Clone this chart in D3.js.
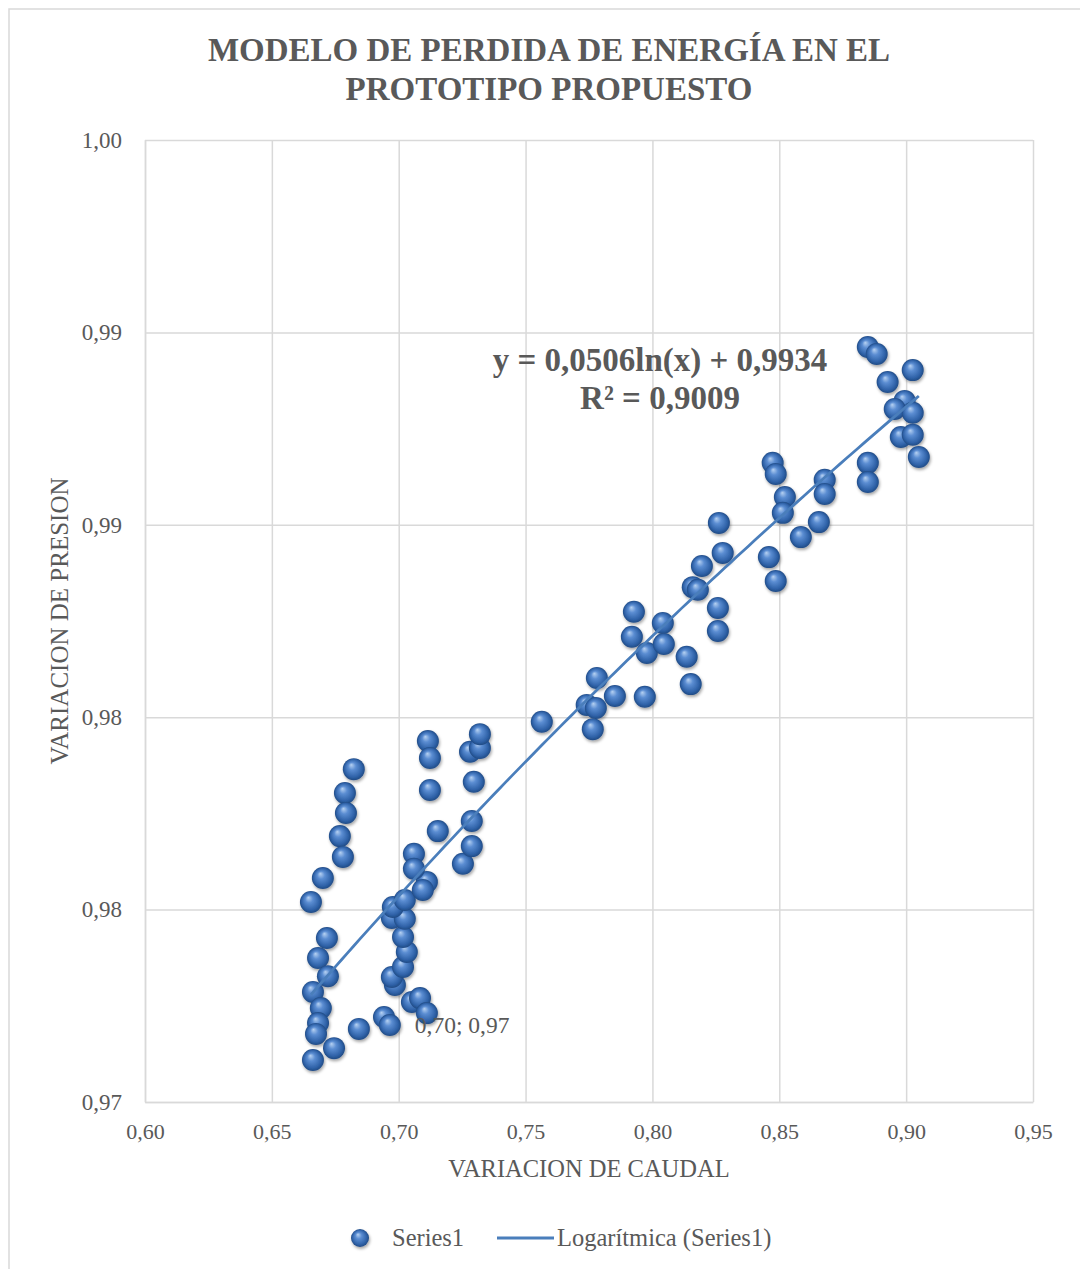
<!DOCTYPE html>
<html>
<head>
<meta charset="utf-8">
<script src="https://cdn.jsdelivr.net/npm/d3@7"></script>
<style>
body { margin: 0; background: #fff; }
svg text { font-family: "Liberation Serif", "Times New Roman", serif; fill: #595959; }
</style>
</head>
<body>
<div id="chart"></div>
<script>
// values
let caudal = [
    0.6823, 0.6788, 0.6792, 0.6768, 0.6780, 0.6701, 0.6654, 0.6717, 0.6682, 0.6721,
    0.6662, 0.6693, 0.6682, 0.6674, 0.6662, 0.6745, 0.6843, 0.6942, 0.6965, 0.6985,
    0.6973, 0.7017, 0.7032, 0.7017, 0.6973, 0.7024, 0.6977, 0.7024, 0.7052, 0.7084,
    0.7111, 0.7111, 0.7095, 0.7060, 0.7060, 0.7115, 0.7123, 0.7123, 0.7154, 0.7253,
    0.7288, 0.7288, 0.7296, 0.7281, 0.7320, 0.7320, 0.7564, 0.7741, 0.7777, 0.7765,
    0.7781, 0.7852, 0.7970, 0.7927, 0.7919, 0.7978, 0.8041, 0.8045, 0.8135, 0.8151,
    0.8159, 0.8179, 0.8195, 0.8258, 0.8258, 0.8262, 0.8277, 0.8459, 0.8486, 0.8474,
    0.8486, 0.8522, 0.8514, 0.8585, 0.8656, 0.8679, 0.8679, 0.8849, 0.8849, 0.8849,
    0.8884, 0.8927, 0.9026, 0.8994, 0.8955, 0.9026, 0.8979, 0.9026, 0.9050
];
let presion = [
    0.97865, 0.97803, 0.97751, 0.97691, 0.97637, 0.97582, 0.97520, 0.97426, 0.97374, 0.97327,
    0.97286, 0.97244, 0.97205, 0.97177, 0.97109, 0.97140, 0.97190, 0.97221, 0.97200, 0.97304,
    0.97325, 0.97351, 0.97390, 0.97429, 0.97478, 0.97476, 0.97507, 0.97525, 0.97260, 0.97270,
    0.97231, 0.97572, 0.97551, 0.97645, 0.97606, 0.97938, 0.97894, 0.97811, 0.97704, 0.97619,
    0.97665, 0.97730, 0.97832, 0.97910, 0.97920, 0.97956, 0.97988, 0.98032, 0.98024, 0.97969,
    0.98102, 0.98055, 0.98053, 0.98274, 0.98209, 0.98167, 0.98245, 0.98190, 0.98157, 0.98086,
    0.98338, 0.98331, 0.98393, 0.98284, 0.98224, 0.98505, 0.98427, 0.98416, 0.98354, 0.98661,
    0.98632, 0.98572, 0.98531, 0.98468, 0.98507, 0.98617, 0.98580, 0.98661, 0.98611, 0.98962,
    0.98944, 0.98871, 0.98902, 0.98822, 0.98801, 0.98791, 0.98728, 0.98734, 0.98676
];
let labelIndex = 18;           // point carrying the "0,70; 0,97" data label
let labelText = "0,70; 0,97";

let xTicks = [0.60, 0.65, 0.70, 0.75, 0.80, 0.85, 0.90, 0.95];
let xTickLabels = ["0,60", "0,65", "0,70", "0,75", "0,80", "0,85", "0,90", "0,95"];
let yTicks = [0.970, 0.975, 0.980, 0.985, 0.990, 0.995];
let yTickLabels = ["0,97", "0,98", "0,98", "0,99", "0,99", "1,00"];

// logarithmic trend y = a ln(x) + b
let trendA = 0.0506;
let trendB = 0.9934;
let trendText = ["y = 0,0506ln(x) + 0,9934", "R\u00b2 = 0,9009"];

let titleLines = ["MODELO DE PERDIDA DE ENERG\u00cdA EN EL", "PROTOTIPO PROPUESTO"];

const W = 1080, H = 1269;
const plot = { left: 145, top: 140, right: 1033, bottom: 1102 };
const blue = "#4a7ebb";

let svg = d3.select("#chart")
    .append("svg")
    .attr("width", W)
    .attr("height", H);

let defs = svg.append("defs");
let grad = defs.append("radialGradient")
    .attr("id", "ball")
    .attr("cx", "50%").attr("cy", "50%").attr("r", "50%")
    .attr("fx", "38%").attr("fy", "30%");
grad.append("stop").attr("offset", "0%").attr("stop-color", "#b7d2f2");
grad.append("stop").attr("offset", "35%").attr("stop-color", "#5b8dd2");
grad.append("stop").attr("offset", "80%").attr("stop-color", "#2f62a8");
grad.append("stop").attr("offset", "100%").attr("stop-color", "#214b85");
defs.append("filter")
    .attr("id", "shadow")
    .attr("x", "-50%").attr("y", "-50%").attr("width", "200%").attr("height", "200%")
    .append("feDropShadow")
    .attr("dx", 1).attr("dy", 2).attr("stdDeviation", 1.5)
    .attr("flood-color", "#000").attr("flood-opacity", 0.35);

// chart area border (only top/left visible in the picture)
svg.append("rect")
    .attr("x", 9).attr("y", 9)
    .attr("width", W + 40).attr("height", H + 40)
    .attr("fill", "none")
    .attr("stroke", "#d9d9d9")
    .attr("stroke-width", 1.5);

// title
svg.append("g").selectAll("text")
    .data(titleLines)
    .enter().append("text")
    .attr("x", 549)
    .attr("y", function(d, i) { return 61 + i * 39; })
    .attr("text-anchor", "middle")
    .attr("font-size", 33)
    .attr("font-weight", "bold")
    .text(function(d) { return d; });

let x = d3.scaleLinear()
    .domain([0.60, 0.95])
    .range([plot.left, plot.right]);

let y = d3.scaleLinear()
    .domain([0.970, 0.995])
    .range([plot.bottom, plot.top]);

// y gridlines
svg.append("g")
    .attr("transform", "translate(" + plot.left + ",0)")
    .attr("class", "grid")
    .call(d3.axisLeft(y)
	  .tickValues(yTicks)
	  .tickSize(-(plot.right - plot.left))
	  .tickFormat(""))
    .call(function(g) { g.select(".domain").remove(); })
    .selectAll("line").attr("stroke", "#d9d9d9").attr("stroke-width", 1.5);

// x gridlines
svg.append("g")
    .attr("transform", "translate(0," + plot.bottom + ")")
    .attr("class", "grid")
    .call(d3.axisBottom(x)
	  .tickValues(xTicks)
	  .tickSize(-(plot.bottom - plot.top))
	  .tickFormat(""))
    .call(function(g) { g.select(".domain").remove(); })
    .selectAll("line").attr("stroke", "#d9d9d9").attr("stroke-width", 1.5);

// x-axis labels
let xAxis = svg.append("g")
    .attr("transform", "translate(0," + plot.bottom + ")")
    .call(d3.axisBottom(x)
	  .tickValues(xTicks)
	  .tickSize(0)
	  .tickPadding(21)
	  .tickFormat(function(d, i) { return xTickLabels[i]; }));
xAxis.select(".domain").attr("stroke", "#d9d9d9").attr("stroke-width", 1.5);
xAxis.selectAll("text").attr("font-size", 22).attr("fill", "#595959")
    .attr("font-family", "Liberation Serif");

// y-axis labels
let yAxis = svg.append("g")
    .attr("transform", "translate(" + plot.left + ",0)")
    .call(d3.axisLeft(y)
	  .tickValues(yTicks)
	  .tickSize(0)
	  .tickPadding(23)
	  .tickFormat(function(d, i) { return yTickLabels[i]; }));
yAxis.select(".domain").attr("stroke", "#d9d9d9").attr("stroke-width", 1.5);
yAxis.selectAll("text").attr("font-size", 23).attr("fill", "#595959")
    .attr("font-family", "Liberation Serif");

// axis titles
svg.append("text")
    .attr("x", (plot.left + plot.right) / 2)
    .attr("y", 1177)
    .attr("text-anchor", "middle")
    .attr("font-size", 24.5)
    .text("VARIACION DE CAUDAL");

svg.append("text")
    .attr("transform", "translate(68," + (plot.top + plot.bottom) / 2 + ") rotate(-90)")
    .attr("text-anchor", "middle")
    .attr("font-size", 25)
    .text("VARIACION DE PRESION");

// points
let data = caudal.map(function(c, i) { return { x: c, y: presion[i] }; });

svg.append("g")
    .attr("filter", "url(#shadow)")
    .selectAll("circle")
    .data(data)
    .enter().append("circle")
    .attr("cx", function(d) { return x(d.x); })
    .attr("cy", function(d) { return y(d.y); })
    .attr("r", 11)
    .attr("fill", "url(#ball)");

// data label
svg.append("text")
    .attr("x", x(data[labelIndex].x) + 25)
    .attr("y", y(data[labelIndex].y) + 8)
    .attr("font-size", 23.5)
    .attr("fill", "#404040")
    .text(labelText);

// logarithmic trendline
let xmin = d3.min(caudal), xmax = d3.max(caudal);
let trend = d3.range(0, 101).map(function(i) {
    let xv = xmin + (xmax - xmin) * i / 100;
    return { x: xv, y: trendA * Math.log(xv) + trendB };
});
svg.append("path")
    .datum(trend)
    .attr("fill", "none")
    .attr("stroke", blue)
    .attr("stroke-width", 2.75)
    .attr("d", d3.line()
	  .x(function(d) { return x(d.x); })
	  .y(function(d) { return y(d.y); }));

// equation
svg.append("g").selectAll("text")
    .data(trendText)
    .enter().append("text")
    .attr("x", 660)
    .attr("y", function(d, i) { return 371 + i * 38; })
    .attr("text-anchor", "middle")
    .attr("font-size", 33)
    .attr("font-weight", "bold")
    .text(function(d) { return d; });

// legend
let legend = svg.append("g");
legend.append("circle")
    .attr("cx", 360).attr("cy", 1238).attr("r", 9)
    .attr("fill", "url(#ball)")
    .attr("filter", "url(#shadow)");
legend.append("text")
    .attr("x", 392).attr("y", 1246)
    .attr("font-size", 24.5)
    .text("Series1");
legend.append("line")
    .attr("x1", 497).attr("x2", 554)
    .attr("y1", 1238).attr("y2", 1238)
    .attr("stroke", blue)
    .attr("stroke-width", 3);
legend.append("text")
    .attr("x", 557).attr("y", 1246)
    .attr("font-size", 24.5)
    .text("Logar\u00edtmica (Series1)");
</script>
</body>
</html>
